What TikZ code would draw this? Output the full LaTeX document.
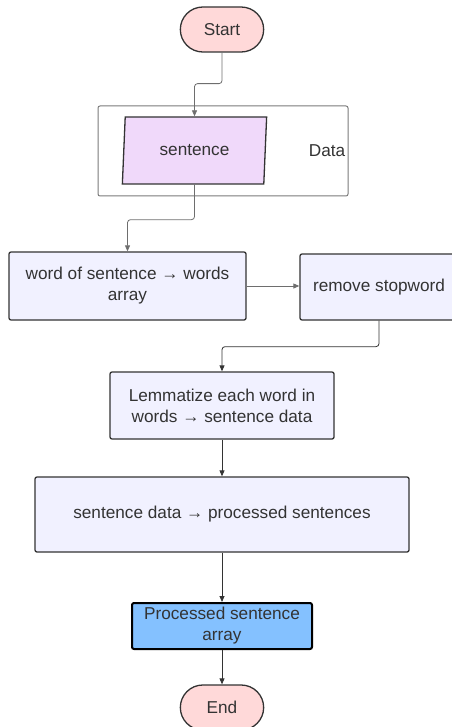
\documentclass[tikz,border=0pt]{standalone}
\usepackage{fontspec}
\setmainfont{Liberation Sans}
\usetikzlibrary{shapes.misc,shapes.geometric,arrows.meta}

\definecolor{termpink}{HTML}{FFD9D9}
\definecolor{datapurple}{HTML}{F0D9FA}
\definecolor{procfill}{HTML}{F1F1FF}
\definecolor{resultblue}{HTML}{84C1FF}
\definecolor{linedark}{HTML}{333333}
\definecolor{arrowgray}{HTML}{6E6E6E}
\definecolor{boxgray}{HTML}{7A7A7A}
\definecolor{txtgray}{HTML}{333333}

\begin{document}
\begin{tikzpicture}[x=1pt, y=-1pt,
  every node/.style={font=\fontsize{17.2}{21}\selectfont, text=txtgray},
  term/.style={rounded rectangle, draw=linedark, line width=1.3pt, fill=termpink,
    minimum width=90pt, minimum height=45pt},
  proc/.style={rectangle, draw=linedark, line width=1.3pt, rounded corners=2pt,
    fill=procfill, align=center},
  flow/.style={-{Triangle[length=6pt,width=5pt]}, line width=0.8pt, rounded corners=3pt, draw=linedark}]
  \useasboundingbox (0,0) rectangle (451,727);

  \node (start) [term] at (222,29.5) {Start};
  \node (datagroup) [draw=boxgray, line width=1pt, rounded corners=2pt,
    minimum width=250pt, minimum height=90pt] at (223,151) {};
  \node (sentence) [trapezium, trapezium left angle=85, trapezium right angle=95,
    trapezium stretches=true, draw=linedark, line width=1.3pt, fill=datapurple,
    minimum width=145pt, minimum height=67pt] at (194.5,150.5) {sentence};
  \node (datalabel) at (327,151) {Data};

  \node (word) [proc, minimum width=237pt, minimum height=68pt] at (127.5,286)
    {word of sentence → words\\array};
  \node (remove) [proc, minimum width=158pt, minimum height=66pt] at (379,287)
    {remove stopword};
  \node (lemma) [proc, minimum width=224pt, minimum height=67pt] at (222,405.5)
    {Lemmatize each word in\\words → sentence data};
  \node (sdata) [proc, minimum width=374pt, minimum height=75pt] at (222,514.5)
    {sentence data → processed sentences};
  \node (result) [proc, fill=resultblue, draw=black, line width=2pt, inner sep=1pt,
    minimum width=180pt, minimum height=46pt] at (222,626) {Processed sentence\\array};
  \node (end) [term] at (222,707.5) {End};

  \draw[flow, draw=arrowgray] (start.south) -- ++(0,31) -| (sentence.north);
  \draw[flow, draw=arrowgray] (sentence.south) -- ++(0,35) -| (word.north);
  \draw[flow, draw=arrowgray] (word.east) -- (word.east -| remove.west);
  \draw[flow] (remove.south) -- ++(0,26) -| (lemma.north);
  \draw[flow] (lemma.south) -- (sdata.north);
  \draw[flow] (sdata.south) -- (result.north);
  \draw[flow] (result.south) -- (end.north);
\end{tikzpicture}
\end{document}
